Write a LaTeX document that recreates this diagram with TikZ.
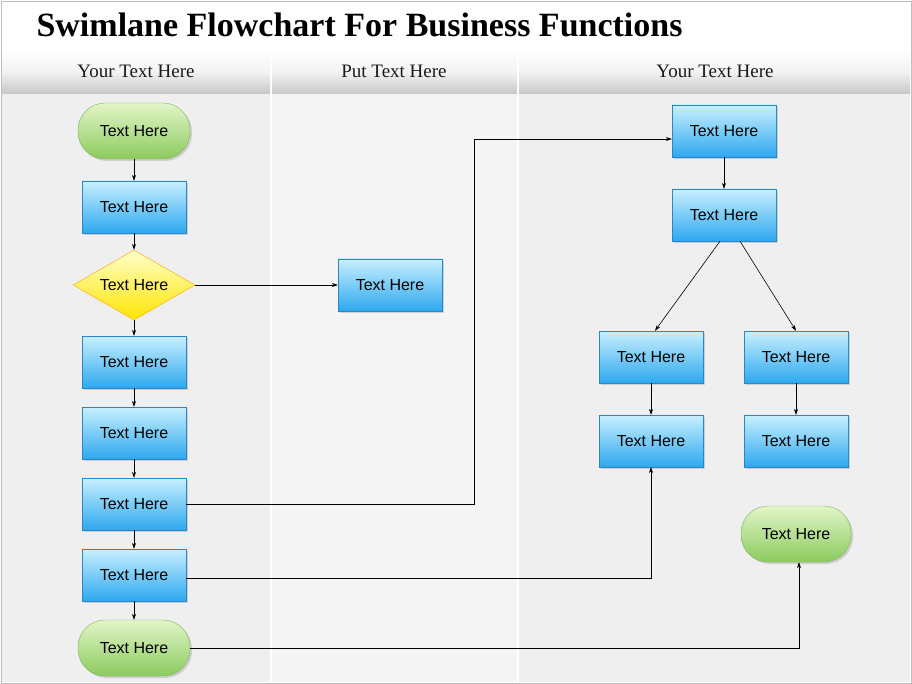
\documentclass[tikz,border=0pt]{standalone}
\usepackage{fontspec}
\setmainfont{Liberation Sans}
\newfontfamily\serifx{Liberation Serif}
\usetikzlibrary{shapes.geometric,arrows.meta,shadows}
\definecolor{bluetop}{HTML}{C8F0FF}
\definecolor{bluebot}{HTML}{2EA8EE}
\definecolor{blueedge}{HTML}{2A86C8}
\definecolor{greentop}{HTML}{E2F5C8}
\definecolor{greenbot}{HTML}{8CCB5E}
\definecolor{greenedge}{HTML}{7DB558}
\definecolor{lane}{HTML}{EFEFF0}
\definecolor{lanemid}{HTML}{F4F4F5}
\begin{document}
\begin{tikzpicture}[x=1pt,y=-1pt,
 box/.style={draw=blueedge,top color=bluetop,bottom color=bluebot,minimum width=104pt,minimum height=52pt,inner sep=0pt,font=\fontsize{16}{18}\selectfont,drop shadow={shadow xshift=2pt,shadow yshift=-2pt,opacity=.3}},
 term/.style={draw=greenedge,top color=greentop,bottom color=greenbot,rounded corners=27pt,minimum width=112pt,minimum height=56pt,inner sep=0pt,font=\fontsize{16}{18}\selectfont,drop shadow={shadow xshift=2pt,shadow yshift=-2pt,opacity=.3}},
 dia/.style={diamond,aspect=1.75,draw=orange!70!yellow,top color=yellow!20,bottom color=yellow!80!orange,minimum width=122pt,minimum height=70pt,inner sep=0pt,font=\fontsize{16}{18}\selectfont},
 head/.style={font=\serifx\fontsize{19}{22}\selectfont,text=black!90},
 arr/.style={-{Stealth[length=6pt,width=4pt]},black,line width=0.6pt}]
\useasboundingbox (0,0) rectangle (912,684);
\fill[white] (0,0) rectangle (912,684);
\draw[black!25] (1,1) rectangle (911,683);
\fill[lane] (2,94) rectangle (270,682);
\fill[lanemid] (272,94) rectangle (517,682);
\fill[lane] (519,94) rectangle (910,682);
\foreach \a/\b in {2/270,272/517,519/910}{
 \shade[top color=white,bottom color=black!22,middle color=black!5] (\a,50) rectangle (\b,94);}
\node[anchor=west,font=\serifx\bfseries\fontsize{34}{38}\selectfont] (title) at (33,25) {Swimlane Flowchart For Business Functions};
\node[head] (h1) at (136,71) {Your Text Here};
\node[head] (h2) at (394,71) {Put Text Here};
\node[head] (h3) at (715,71) {Your Text Here};
\node[term] (s) at (134,131) {Text Here};
\node[box] (b1) at (134,207) {Text Here};
\node[dia] (d) at (134,285) {Text Here};
\node[box] (p) at (390,285) {Text Here};
\node[box] (b3) at (134,362) {Text Here};
\node[box] (b4) at (134,433) {Text Here};
\node[box] (b5) at (134,504) {Text Here};
\node[box] (b6) at (134,575) {Text Here};
\node[term] (e) at (134,648) {Text Here};
\node[box] (r1) at (724,131) {Text Here};
\node[box] (r2) at (724,215) {Text Here};
\node[box] (r3) at (651,357) {Text Here};
\node[box] (r4) at (796,357) {Text Here};
\node[box] (r5) at (651,441) {Text Here};
\node[box] (r6) at (796,441) {Text Here};
\node[term,minimum width=110pt] (rg) at (796,534) {Text Here};
\draw[arr] (s) -- (b1);
\draw[arr] (b1) -- (d);
\draw[arr] (d) -- (b3);
\draw[arr] (b3) -- (b4);
\draw[arr] (b4) -- (b5);
\draw[arr] (b5) -- (b6);
\draw[arr] (b6) -- (e);
\draw[arr] (d) -- (p);
\draw[arr] (r1) -- (r2);
\draw[arr] ([xshift=-4pt]r2.south) -- ([xshift=4pt]r3.north);
\draw[arr] ([xshift=16pt]r2.south) -- (r4.north);
\draw[arr] (r3) -- (r5);
\draw[arr] (r4) -- (r6);
\draw[arr] (b5.east) -| (474,139) -- ([yshift=-8pt]r1.west);
\draw[arr] ([yshift=-3pt]b6.east) -| (r5.south);
\draw[arr] (e.east) -| ([xshift=3pt]rg.south);
\end{tikzpicture}
\end{document}
